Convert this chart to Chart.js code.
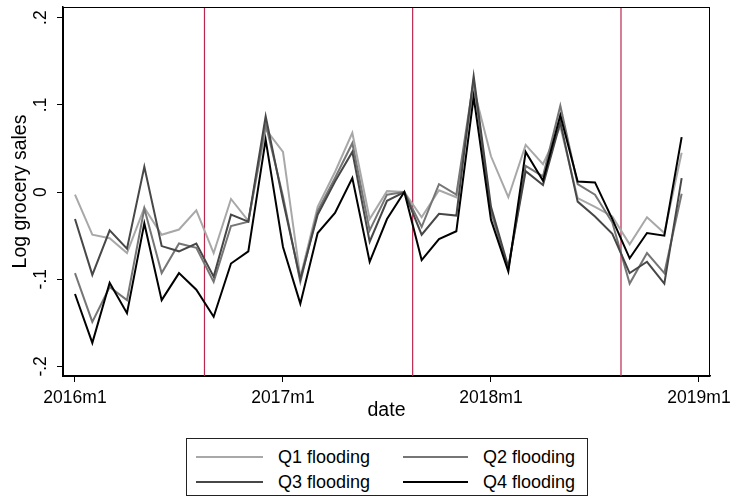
<!DOCTYPE html>
<html>
<head>
<meta charset="utf-8">
<script src="https://cdn.jsdelivr.net/npm/chart.js@4"></script>
<style>
  html, body { margin: 0; padding: 0; background: #fff; }
  #wrap { position: relative; width: 733px; height: 500px; }
  #legend { position: absolute; left: 186px; top: 438px; width: 402px; height: 58px;
            border: 1px solid #222; box-sizing: border-box; background: #fff;
            font-family: "Liberation Sans", Arial, sans-serif; font-size: 18px; color: #000; }
  .sw { position: absolute; height: 2px; }
  .lt { position: absolute; line-height: 20px; white-space: nowrap; }
</style>
</head>
<body>
<div id="wrap">
  <canvas id="c" width="733" height="500"></canvas>
  <div id="legend"></div>
</div>
<script>
const dates = ["2016m1","2016m2","2016m3","2016m4","2016m5","2016m6","2016m7","2016m8","2016m9","2016m10","2016m11","2016m12",
               "2017m1","2017m2","2017m3","2017m4","2017m5","2017m6","2017m7","2017m8","2017m9","2017m10","2017m11","2017m12",
               "2018m1","2018m2","2018m3","2018m4","2018m5","2018m6","2018m7","2018m8","2018m9","2018m10","2018m11","2018m12"];
const q1 = [-0.003,-0.049,-0.053,-0.070,-0.018,-0.049,-0.043,-0.021,-0.070,-0.008,-0.033,0.072,0.046,-0.098,-0.017,0.023,0.068,-0.031,0.001,0,-0.029,0.002,-0.006,0.119,0.041,-0.006,0.054,0.032,0.075,-0.007,-0.017,-0.028,-0.060,-0.029,-0.047,0.045];
const q2 = [-0.093,-0.149,-0.109,-0.124,-0.019,-0.093,-0.059,-0.064,-0.103,-0.039,-0.034,0.078,-0.005,-0.103,-0.022,0.016,0.056,-0.044,-0.003,0,-0.040,0.009,-0.003,0.128,-0.023,-0.088,0.030,0.018,0.099,0.009,-0.003,-0.035,-0.105,-0.070,-0.093,-0.002];
const q3 = [-0.031,-0.095,-0.044,-0.065,0.029,-0.062,-0.068,-0.059,-0.097,-0.026,-0.034,0.087,-0.010,-0.100,-0.026,0.012,0.046,-0.057,-0.010,0,-0.049,-0.025,-0.027,0.133,-0.017,-0.086,0.024,0.008,0.080,-0.011,-0.028,-0.048,-0.093,-0.080,-0.105,0.016];
const q4 = [-0.117,-0.173,-0.104,-0.139,-0.036,-0.124,-0.093,-0.112,-0.143,-0.082,-0.068,0.060,-0.063,-0.128,-0.047,-0.024,0.016,-0.080,-0.031,0,-0.078,-0.054,-0.045,0.109,-0.032,-0.091,0.046,0.013,0.088,0.012,0.011,-0.031,-0.076,-0.047,-0.050,0.063];
const seriesNames = ["Q1 flooding","Q2 flooding","Q3 flooding","Q4 flooding"];
const xTickPos = [0, 12, 24, 36];
const xTickLabels = ["2016m1","2017m1","2018m1","2019m1"];
const yTickPos = [-0.2, -0.1, 0, 0.1, 0.2];
const yTickLabels = ["-.2","-.1","0",".1",".2"];
const eventMonths = [7.47, 19.48, 31.5];
const yTitle = "Log grocery sales";
const xTitle = "date";

const colors = ["#a8a8a8", "#767676", "#474747", "#000000"];
const FONT = '"Liberation Sans", Arial, sans-serif';

function pts(arr) { return arr.map((v, i) => ({ x: dates.indexOf(dates[i]), y: v })); }

const allSeries = [q1, q2, q3, q4];
const datasets = allSeries.map((s, k) => ({
  label: seriesNames[k],
  data: pts(s),
  borderColor: colors[k],
  backgroundColor: colors[k],
  borderWidth: 2,
  pointRadius: 0,
  tension: 0,
  fill: false,
  order: 4 - k
}));

const decor = {
  id: 'decor',
  beforeDatasetsDraw(chart) {
    const { ctx, chartArea: a, scales: { x } } = chart;
    ctx.save();
    ctx.strokeStyle = '#b8284e';
    ctx.lineWidth = 1.2;
    eventMonths.forEach(m => {
      const px = x.getPixelForValue(m);
      ctx.beginPath(); ctx.moveTo(px, a.top); ctx.lineTo(px, a.bottom); ctx.stroke();
    });
    ctx.restore();
  },
  afterDraw(chart) {
    const { ctx, chartArea: a, scales: { x, y } } = chart;
    ctx.save();
    ctx.strokeStyle = '#000';
    ctx.lineWidth = 1;
    ctx.strokeRect(a.left + 0.5, a.top + 0.5, a.right - a.left - 1, a.bottom - a.top);
    ctx.fillStyle = '#000';
    ctx.font = '17.5px ' + FONT;
    ctx.textAlign = 'center';
    ctx.textBaseline = 'top';
    xTickPos.forEach((v, i) => ctx.fillText(xTickLabels[i], x.getPixelForValue(v), a.bottom + 13));
    yTickPos.forEach((v, i) => {
      ctx.save();
      ctx.translate(41, y.getPixelForValue(v));
      ctx.rotate(-Math.PI / 2);
      ctx.textBaseline = 'middle';
      ctx.fillText(yTickLabels[i], 0, 0);
      ctx.restore();
    });
    ctx.font = '19.5px ' + FONT;
    ctx.textBaseline = 'middle';
    ctx.fillText(xTitle, (a.left + a.right) / 2, 411);
    ctx.save();
    ctx.translate(21, (a.top + a.bottom) / 2);
    ctx.rotate(-Math.PI / 2);
    ctx.fillText(yTitle, 0, 0);
    ctx.restore();
    ctx.restore();
  }
};

new Chart(document.getElementById('c'), {
  type: 'line',
  data: { datasets },
  options: {
    responsive: false,
    animation: false,
    devicePixelRatio: 1,
    layout: { padding: { top: 7, right: 23, left: 0, bottom: 0 } },
    plugins: { legend: { display: false }, tooltip: { enabled: false } },
    scales: {
      x: {
        type: 'linear', min: -0.692, max: 36.635,
        afterBuildTicks: s => { s.ticks = xTickPos.map(v => ({ value: v })); },
        afterFit: s => { s.height = 124; },
        ticks: { display: false },
        grid: { drawOnChartArea: false, drawTicks: true, tickLength: 6, color: '#000', lineWidth: 1 },
        border: { color: '#000', width: 1.5 }
      },
      y: {
        type: 'linear', min: -0.211, max: 0.2122,
        afterBuildTicks: s => { s.ticks = yTickPos.map(v => ({ value: v })); },
        afterFit: s => { s.width = 63; },
        ticks: { display: false },
        grid: { drawOnChartArea: false, drawTicks: true, tickLength: 6, color: '#000', lineWidth: 1 },
        border: { color: '#000', width: 1.5 }
      }
    }
  },
  plugins: [decor]
});

// legend (HTML text)
const leg = document.getElementById('legend');
const cols = [{ sw: 9, w: 67, tx: 91 }, { sw: 216, w: 65, tx: 296 }];
const rows = [18, 43];
seriesNames.forEach((name, k) => {
  const c = cols[k % 2], r = rows[Math.floor(k / 2)];
  const sw = document.createElement('div');
  sw.className = 'sw';
  sw.style.left = c.sw + 'px'; sw.style.width = c.w + 'px'; sw.style.top = (r - 1) + 'px';
  sw.style.background = colors[k];
  leg.appendChild(sw);
  const t = document.createElement('div');
  t.className = 'lt';
  t.style.left = c.tx + 'px'; t.style.top = (r - 10) + 'px';
  t.textContent = name;
  leg.appendChild(t);
});
</script>
</body>
</html>
